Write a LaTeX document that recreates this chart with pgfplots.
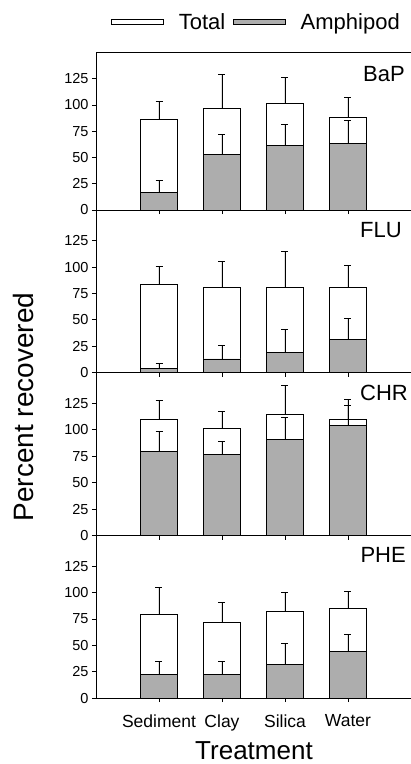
\documentclass[border=0pt]{standalone}
\usepackage{fontspec}
\setmainfont{Liberation Sans}
\usepackage{pgfplots}
\usepackage{pgfplotstable}
\pgfplotsset{compat=1.18}

% x tot tote amp ampe  (tote/ampe = upper error)
\pgfplotstableread{
x tot  tote amp  ampe
0 86   17.5 16.5 11.5
1 97   32   52.5 19.5
2 102  24.5 61.5 20
3 88   19.5 63.5 21.5
}\bap
\pgfplotstableread{
x tot  tote amp  ampe
0 83.5 17   4    5
1 80.5 25   13   13
2 81   33.5 19.5 21.5
3 81   21   31.5 20
}\flu
\pgfplotstableread{
x tot   tote amp  ampe
0 109.5 18   80   18.5
1 101.5 16   76.5 12.5
2 114.5 27.5 91   21
3 110   19   104.5 18.5
}\chr
\pgfplotstableread{
x tot  tote amp  ampe
0 79   26   22   13
1 72   19   22.5 12.5
2 82   18   32   19.5
3 85   16   44.5 15.5
}\phe

\definecolor{amph}{gray}{0.68}

\pgfplotsset{
  panel/.style={
    scale only axis, width=315pt,
    xmin=-1, xmax=4, ymin=0,
    axis x line*=bottom, axis y line*=left,
    xtick={0,1,2,3}, xticklabels={},
    ytick={0,25,...,125},
    tick align=outside, major tick length=4pt,
    tick style={line width=0.8pt, black},
    axis line style={line width=0.8pt},
    /pgf/number format/assume math mode=true,
    yticklabel style={font=\fontsize{14.5}{16}\selectfont},
    xticklabel style={font=\fontsize{17.5}{19}\selectfont, yshift=-9pt},
  },
  errs/.style={
    error bars/y dir=plus, error bars/y explicit,
    error bars/error mark=-,
    error bars/error bar style={line width=0.8pt, black},
    error bars/error mark options={rotate=90, line width=0.8pt, black, mark size=3.5pt}},
  totbar/.style={ybar, bar width=0.6, bar shift=0pt, draw=black, fill=white, line width=0.8pt, errs},
  ampbar/.style={ybar, bar width=0.6, bar shift=0pt, draw=black, fill=amph, line width=0.8pt, errs},
}
\tikzset{ptitle/.style={anchor=east, inner sep=0pt, font=\fontsize{22}{24}\selectfont}}

\begin{document}
\begin{tikzpicture}
\useasboundingbox (0,0) rectangle (411pt,-764pt);

% BaP
\begin{axis}[panel, at={(96pt,-210pt)}, anchor=south west, height=157.5pt, ymax=150,
  legend columns=2,
  legend style={at={(0.51,1.195)}, anchor=center, draw=none, fill=none,
    font=\fontsize{22}{24}\selectfont,
    /tikz/every even column/.append style={column sep=6pt}}]
\addplot[totbar, legend image code/.code={\draw[line width=0.8pt, draw=black, fill=white] (0pt,-2.5pt) rectangle (52pt,2.5pt); \path[draw=none, fill=none] (52pt,0pt) -- (65pt,0pt);}]
  table[x=x, y=tot, y error=tote] {\bap};
\addlegendentry{Total}
\addplot[ampbar, legend image code/.code={\draw[line width=0.8pt, draw=black, fill=amph] (0pt,-2.5pt) rectangle (52pt,2.5pt); \path[draw=none, fill=none] (52pt,0pt) -- (65pt,0pt);}]
  table[x=x, y=amp, y error=ampe] {\bap};
\addlegendentry{Amphipod}
\draw[line width=0.8pt] (rel axis cs:0,1) -- (rel axis cs:1,1);
\node[ptitle] at ([xshift=-6pt,yshift=-22pt]rel axis cs:1,1) {BaP};
\end{axis}

% FLU
\begin{axis}[panel, at={(96pt,-372.7pt)}, anchor=south west, height=162.7pt, ymax=154]
\addplot[totbar] table[x=x, y=tot, y error=tote] {\flu};
\addplot[ampbar] table[x=x, y=amp, y error=ampe] {\flu};
\node[ptitle] at ([xshift=-9pt,yshift=-20pt]rel axis cs:1,1) {FLU};
\end{axis}

% CHR
\begin{axis}[panel, at={(96pt,-535.7pt)}, anchor=south west, height=163pt, ymax=154]
\addplot[totbar] table[x=x, y=tot, y error=tote] {\chr};
\addplot[ampbar] table[x=x, y=amp, y error=ampe] {\chr};
\node[ptitle] at ([xshift=-3pt,yshift=-20pt]rel axis cs:1,1) {CHR};
\end{axis}

% PHE
\begin{axis}[panel, at={(96pt,-698pt)}, anchor=south west, height=162.3pt, ymax=154,
  xticklabels={Sediment, Clay, Silica, Water}]
\addplot[totbar] table[x=x, y=tot, y error=tote] {\phe};
\addplot[ampbar] table[x=x, y=amp, y error=ampe] {\phe};
\node[ptitle] at ([xshift=-5pt,yshift=-19pt]rel axis cs:1,1) {PHE};
\end{axis}

\node[rotate=90, anchor=base, font=\fontsize{28}{30}\selectfont] at (33pt,-407pt) {Percent recovered};
\node[anchor=base, font=\fontsize{26}{28}\selectfont, inner sep=0pt] at (254pt,-759pt) {Treatment};
\end{tikzpicture}
\end{document}
